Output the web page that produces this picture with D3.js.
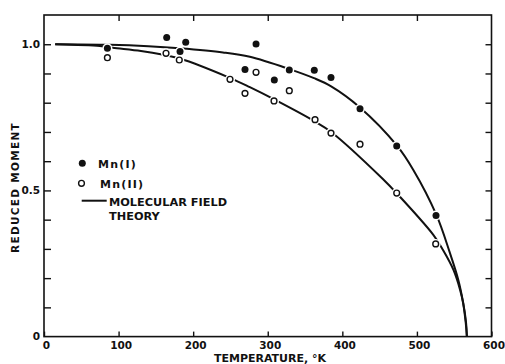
<!DOCTYPE html>
<html>
<head>
<meta charset="utf-8">
<script src="https://cdn.jsdelivr.net/npm/d3@7"></script>
<style>
  html, body { margin: 0; padding: 0; background: #fff; }
  svg { display: block; }
  text { font-family: "DejaVu Sans", sans-serif; font-weight: bold; fill: #111; }
</style>
</head>
<body>
<svg id="chart" width="505" height="364"></svg>
<script>
// ---- data ----
const mn1T = [85, 164.5, 182.4, 190, 284.3, 269.5, 308.8, 328.9, 362.4, 384.8, 423.7, 472.9, 525.6];
const mn1M = [0.986, 1.023, 0.975, 1.007, 1.001, 0.914, 0.878, 0.912, 0.911, 0.886, 0.779, 0.652, 0.414];

const mn2T = [85, 163.6, 181.4, 249.4, 269.5, 284.3, 308.4, 328.9, 363.4, 384.8, 423.7, 472.9, 525.2];
const mn2M = [0.954, 0.969, 0.946, 0.880, 0.832, 0.904, 0.806, 0.841, 0.742, 0.696, 0.658, 0.491, 0.317];

const theoryUpperT = [15, 88, 140, 182, 240, 276, 329, 362, 385, 424, 473, 495, 526, 544, 555.5, 562, 565.8, 567];
const theoryUpperM = [1.000, 0.998, 0.993, 0.986, 0.972, 0.957, 0.915, 0.884, 0.856, 0.783, 0.654, 0.571, 0.417, 0.288, 0.194, 0.116, 0.050, 0];

const theoryLowerT = [15, 75, 92, 130, 160, 182, 249, 276, 308, 363, 385, 454, 473, 522, 535, 549, 558, 562, 565.5, 567];
const theoryLowerM = [1.000, 0.994, 0.988, 0.977, 0.964, 0.951, 0.885, 0.853, 0.812, 0.736, 0.700, 0.540, 0.490, 0.348, 0.296, 0.228, 0.159, 0.114, 0.046, 0];

const xTickValues = [0, 100, 200, 300, 400, 500, 600];
const yTickValues = [0, 0.1, 0.2, 0.3, 0.4, 0.5, 0.6, 0.7, 0.8, 0.9, 1.0];
const yTickLabels = {"0": "0", "0.5": "0.5", "1": "1.0"};

const legendLabels = ["Mn(I)", "Mn(II)", "MOLECULAR FIELD", "THEORY"];
const xTitle = "TEMPERATURE, °K";
const yTitle = "REDUCED MOMENT";

// ---- layout ----
const svg = d3.select("#chart");
const L = 44, R = 491.5, T = 15, B = 336.6;
const x = d3.scaleLinear().domain([0, 600]).range([L, R]);
const y = d3.scaleLinear().domain([0, 1.1]).range([B, T]);
const ink = "#111";

// Axes
const gx = svg.append("g").attr("transform", `translate(0,${B})`)
  .call(d3.axisBottom(x).tickValues(xTickValues).tickSizeInner(-5).tickSizeOuter(0).tickPadding(4.8)
    .tickFormat(d3.format("d")));
gx.select(".domain").remove();
gx.selectAll("text").attr("dx", 2).style("font-size", "10.5px");

const gxt = svg.append("g").attr("transform", `translate(0,${T})`)
  .call(d3.axisTop(x).tickValues(xTickValues.slice(1, -1)).tickSizeInner(-6).tickSizeOuter(0).tickFormat(""));
gxt.select(".domain").remove();

const gy = svg.append("g").attr("transform", `translate(${L},0)`)
  .call(d3.axisLeft(y).tickValues(yTickValues).tickSizeInner(-7).tickSizeOuter(0).tickPadding(4)
    .tickFormat(d => yTickLabels[String(+d.toFixed(1))] || ""));
gy.select(".domain").remove();
gy.selectAll("text").style("font-size", "10.5px");
gy.selectAll(".tick").filter(d => d === 0).select("line").remove();

const gyr = svg.append("g").attr("transform", `translate(${R},0)`)
  .call(d3.axisRight(y).tickValues(yTickValues.slice(1)).tickSizeInner(-6).tickSizeOuter(0).tickFormat(""));
gyr.select(".domain").remove();

svg.selectAll(".tick line").attr("stroke", ink).attr("stroke-width", 1.4);
svg.selectAll(".tick text").attr("fill", ink).style("font-family", "'DejaVu Sans', sans-serif").style("font-weight", "bold");

// Frame
svg.append("rect").attr("x", L).attr("y", T).attr("width", R - L).attr("height", B - T)
  .attr("fill", "none").attr("stroke", ink).attr("stroke-width", 1.6);

// Theory curves
const lineX = d3.line().x(d => x(d[0])).y(d => y(d[1])).curve(d3.curveCatmullRom.alpha(0.5));
[[theoryUpperT, theoryUpperM], [theoryLowerT, theoryLowerM]].forEach(([tt, mm]) => {
  svg.append("path").datum(tt.map((t, i) => [t, mm[i]]))
    .attr("d", lineX).attr("fill", "none").attr("stroke", ink).attr("stroke-width", 2);
});

// Point halos (gaps in lines around symbols)
const pts1 = mn1T.map((t, i) => [t, mn1M[i]]);
const pts2 = mn2T.map((t, i) => [t, mn2M[i]]);
svg.append("g").selectAll("circle").data(pts1.concat(pts2)).join("circle")
  .attr("cx", d => x(d[0])).attr("cy", d => y(d[1])).attr("r", 5).attr("fill", "#fff");

svg.append("g").selectAll("circle").data(pts1).join("circle")
  .attr("cx", d => x(d[0])).attr("cy", d => y(d[1])).attr("r", 3.5).attr("fill", ink);
svg.append("g").selectAll("circle").data(pts2).join("circle")
  .attr("cx", d => x(d[0])).attr("cy", d => y(d[1])).attr("r", 2.9)
  .attr("fill", "#fff").attr("stroke", ink).attr("stroke-width", 1.4);

// Legend
const lg = svg.append("g");
lg.append("circle").attr("cx", 82.3).attr("cy", 163.3).attr("r", 3.5).attr("fill", ink);
lg.append("text").attr("x", 98).attr("y", 167.5).style("font-size", "11px").style("letter-spacing", "1.2px").text(legendLabels[0]);
lg.append("circle").attr("cx", 81.5).attr("cy", 183.3).attr("r", 2.9).attr("fill", "#fff").attr("stroke", ink).attr("stroke-width", 1.4);
lg.append("text").attr("x", 100).attr("y", 187.5).style("font-size", "11px").style("letter-spacing", "1.2px").text(legendLabels[1]);
lg.append("line").attr("x1", 81.7).attr("x2", 106.7).attr("y1", 200.7).attr("y2", 200.7).attr("stroke", ink).attr("stroke-width", 2);
lg.append("text").attr("x", 109).attr("y", 205.5).style("font-size", "11.3px").text(legendLabels[2]);
lg.append("text").attr("x", 109).attr("y", 219.5).style("font-size", "11.3px").text(legendLabels[3]);

// Axis titles
svg.append("text").attr("x", 270).attr("y", 362).attr("text-anchor", "middle")
  .style("font-size", "11px").text(xTitle);
svg.append("text").attr("transform", "translate(19.3,187.5) rotate(-90)").attr("text-anchor", "middle")
  .style("font-size", "10.5px").style("letter-spacing", "1.3px").text(yTitle);
</script>
</body>
</html>
